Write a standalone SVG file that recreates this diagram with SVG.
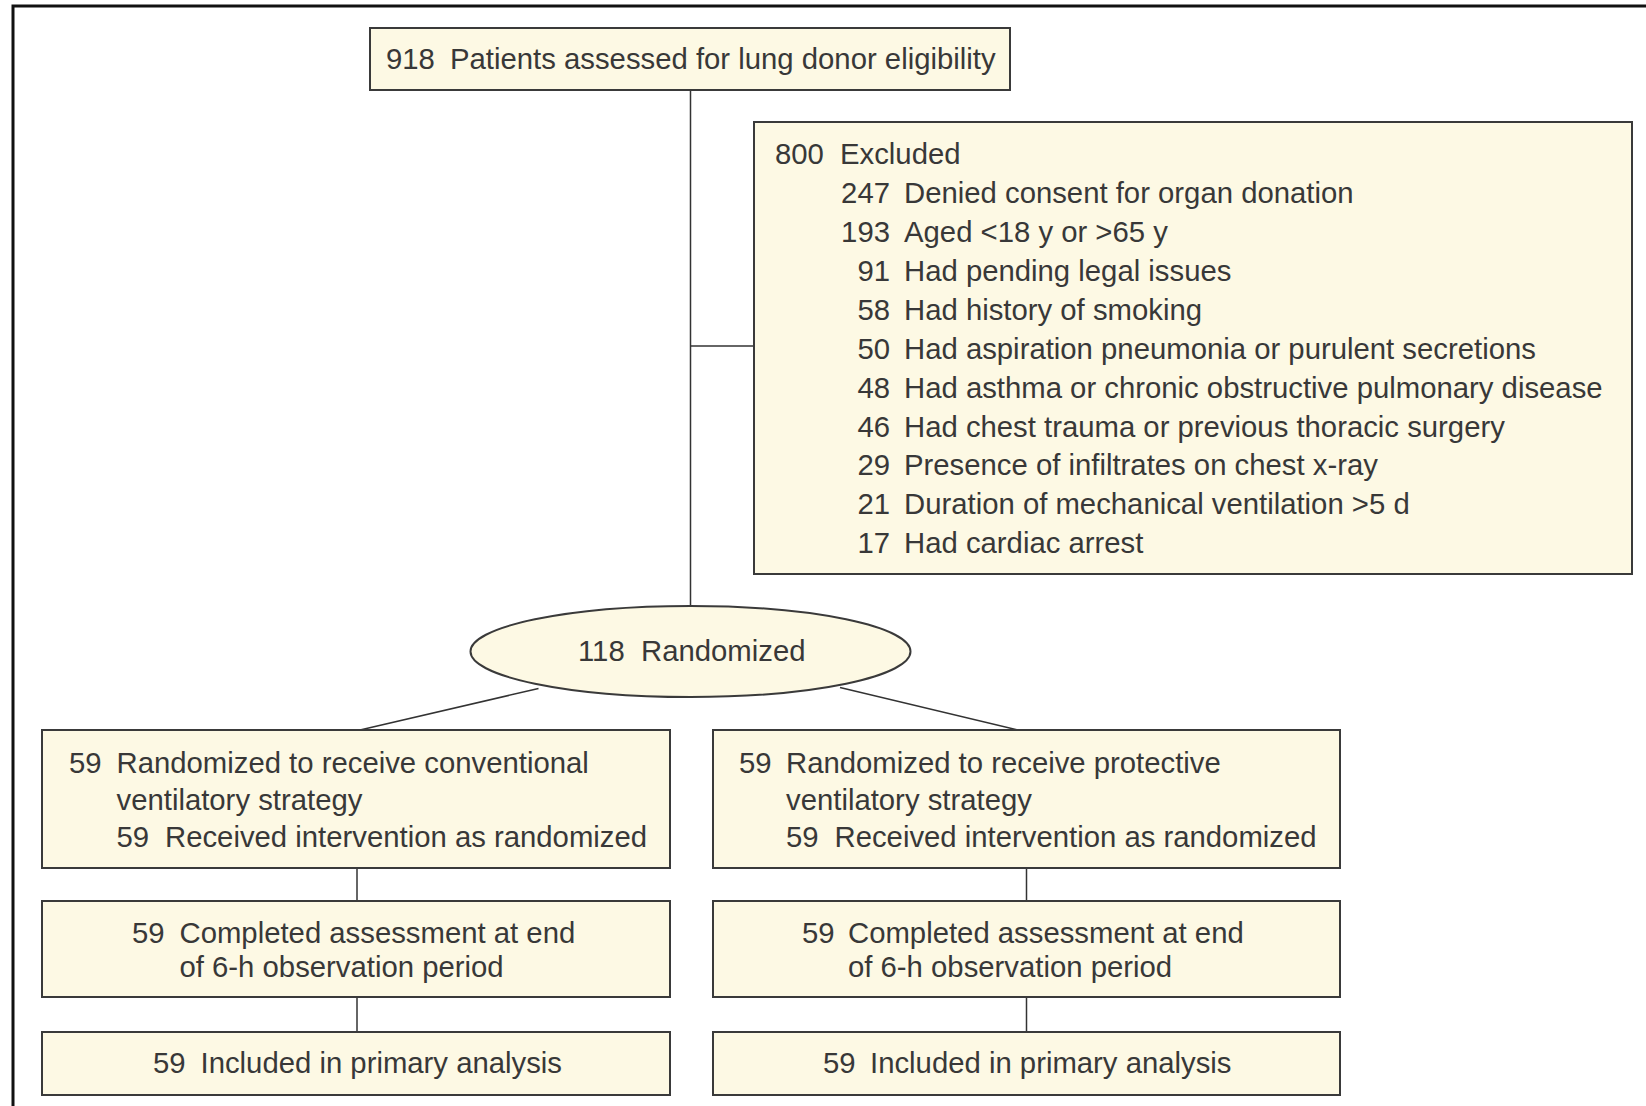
<svg xmlns="http://www.w3.org/2000/svg" width="1646" height="1106" viewBox="0 0 1646 1106">
<style>
.box{fill:#fdf9e4;stroke:#3a3a3a;stroke-width:2}
.t{font-family:"Liberation Sans",Arial,sans-serif;font-size:29.3px;fill:#383838}
.e{text-anchor:end}
.c{text-anchor:middle}
.ln{stroke:#333;stroke-width:1.5;fill:none}
.frame{stroke:#111;stroke-width:3;fill:none}
</style>
<rect width="1646" height="1106" fill="#ffffff"/>
<path class="frame" d="M1646,6 H13 V1106"/>
<g id="connectors">
<line class="ln" x1="690.5" y1="90" x2="690.5" y2="606"/>
<line class="ln" x1="690.5" y1="346" x2="754" y2="346"/>
<line class="ln" x1="538.5" y1="688.5" x2="360" y2="730"/>
<line class="ln" x1="840" y1="687.5" x2="1018" y2="730"/>
<line class="ln" x1="357" y1="868" x2="357" y2="901"/>
<line class="ln" x1="1026.5" y1="868" x2="1026.5" y2="901"/>
<line class="ln" x1="357" y1="997" x2="357" y2="1032"/>
<line class="ln" x1="1026.5" y1="997" x2="1026.5" y2="1032"/>
</g>
<g id="assessed">
<rect class="box" x="370" y="28" width="640" height="62"/>
<text class="t" y="69"><tspan x="386">918</tspan><tspan x="450">Patients assessed for lung donor eligibility</tspan></text>
</g>
<g id="excluded">
<rect class="box" x="754" y="122" width="878" height="452"/>
<text class="t" y="164"><tspan x="775">800</tspan><tspan x="840">Excluded</tspan></text>
<text class="t e" x="890" y="203">247</text><text class="t" x="904" y="203">Denied consent for organ donation</text>
<text class="t e" x="890" y="242">193</text><text class="t" x="904" y="242">Aged &lt;18 y or &gt;65 y</text>
<text class="t e" x="890" y="281">91</text><text class="t" x="904" y="281">Had pending legal issues</text>
<text class="t e" x="890" y="320">58</text><text class="t" x="904" y="320">Had history of smoking</text>
<text class="t e" x="890" y="358.5">50</text><text class="t" x="904" y="358.5">Had aspiration pneumonia or purulent secretions</text>
<text class="t e" x="890" y="397.5">48</text><text class="t" x="904" y="397.5">Had asthma or chronic obstructive pulmonary disease</text>
<text class="t e" x="890" y="436.5">46</text><text class="t" x="904" y="436.5">Had chest trauma or previous thoracic surgery</text>
<text class="t e" x="890" y="475">29</text><text class="t" x="904" y="475">Presence of infiltrates on chest x-ray</text>
<text class="t e" x="890" y="514">21</text><text class="t" x="904" y="514">Duration of mechanical ventilation &gt;5 d</text>
<text class="t e" x="890" y="553">17</text><text class="t" x="904" y="553">Had cardiac arrest</text>
</g>
<g id="randomized">
<ellipse class="box" cx="690.5" cy="651.5" rx="220" ry="45.5"/>
<text class="t" y="661"><tspan x="578">118</tspan><tspan x="641">Randomized</tspan></text>
</g>
<g id="conventional">
<rect class="box" x="42" y="730" width="628" height="138"/>
<text class="t" y="773"><tspan x="69">59</tspan><tspan x="116.5">Randomized to receive conventional</tspan></text>
<text class="t" x="116.5" y="810">ventilatory strategy</text>
<text class="t" y="847"><tspan x="116.5">59</tspan><tspan x="165">Received intervention as randomized</tspan></text>
</g>
<g id="protective">
<rect class="box" x="713" y="730" width="627" height="138"/>
<text class="t" y="773"><tspan x="739">59</tspan><tspan x="786">Randomized to receive protective</tspan></text>
<text class="t" x="786" y="810">ventilatory strategy</text>
<text class="t" y="847"><tspan x="786">59</tspan><tspan x="834.5">Received intervention as randomized</tspan></text>
</g>
<g id="completed-left">
<rect class="box" x="42" y="901" width="628" height="96"/>
<text class="t" y="943"><tspan x="132">59</tspan><tspan x="179.5">Completed assessment at end</tspan></text>
<text class="t" x="179.5" y="977">of 6-h observation period</text>
</g>
<g id="completed-right">
<rect class="box" x="713" y="901" width="627" height="96"/>
<text class="t" y="943"><tspan x="802">59</tspan><tspan x="848">Completed assessment at end</tspan></text>
<text class="t" x="848" y="977">of 6-h observation period</text>
</g>
<g id="analysis-left">
<rect class="box" x="42" y="1032" width="628" height="63"/>
<text class="t" y="1073"><tspan x="153">59</tspan><tspan x="200.5">Included in primary analysis</tspan></text>
</g>
<g id="analysis-right">
<rect class="box" x="713" y="1032" width="627" height="63"/>
<text class="t" y="1073"><tspan x="823">59</tspan><tspan x="870">Included in primary analysis</tspan></text>
</g>
</svg>
